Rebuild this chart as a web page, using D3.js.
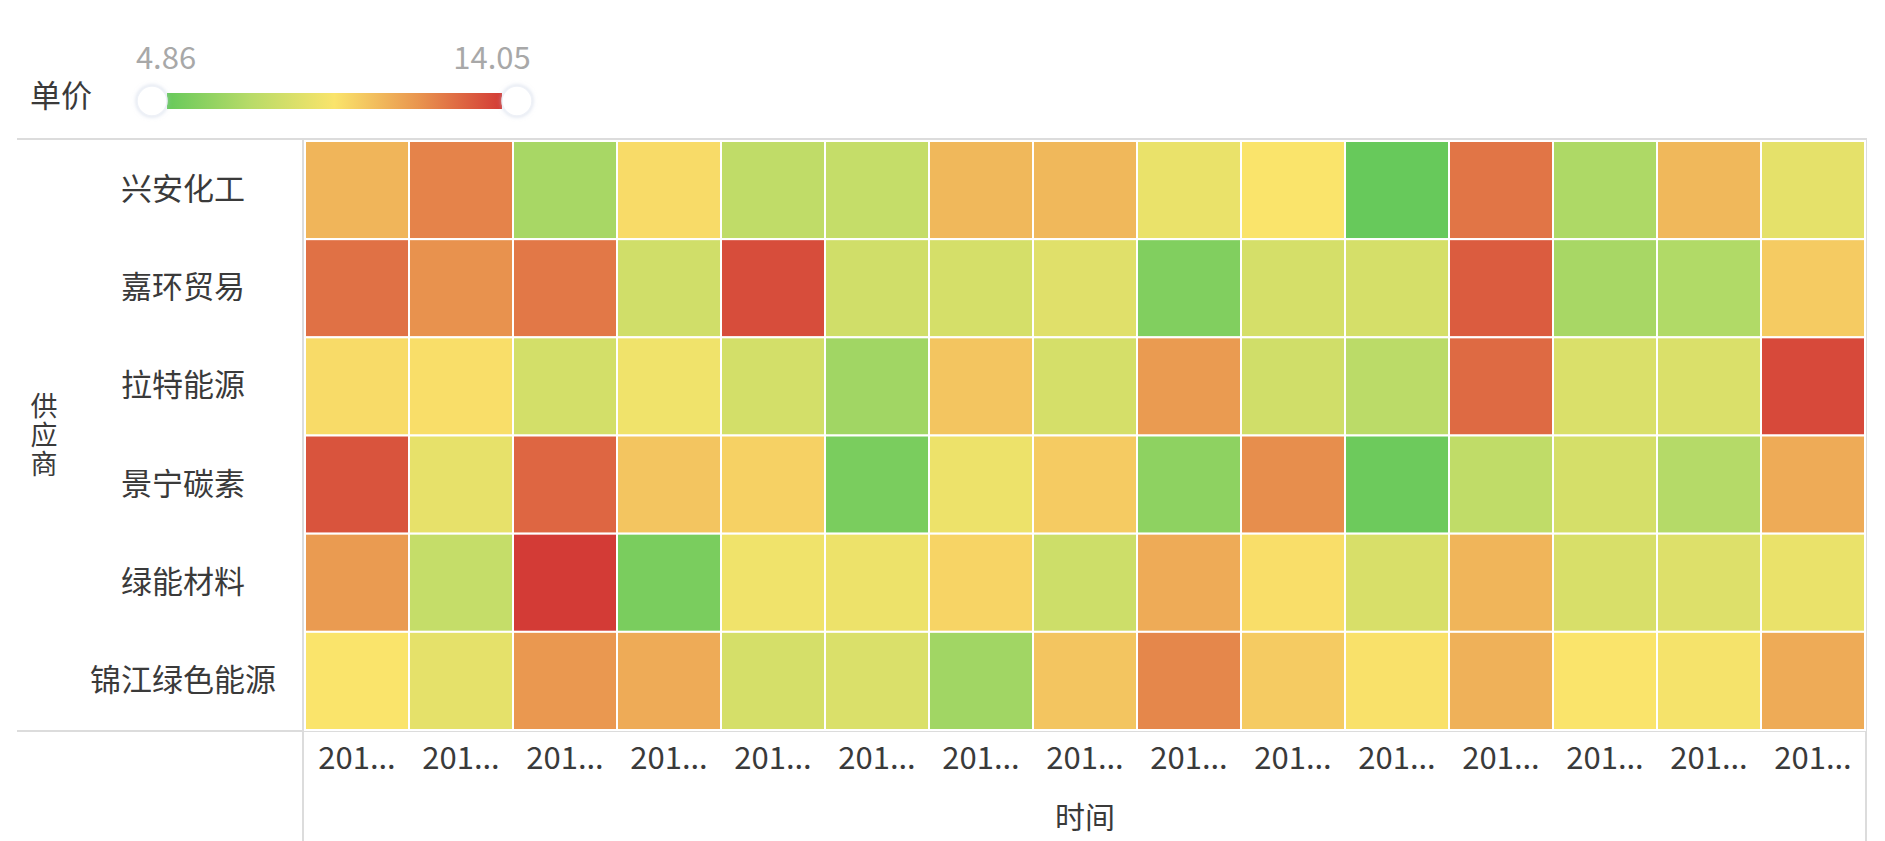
<!DOCTYPE html>
<html>
<head>
<meta charset="utf-8">
<script src="https://cdn.jsdelivr.net/npm/d3@7"></script>
<style>
  html, body { margin: 0; padding: 0; background: #fff; }
  svg { display: block; font-family: "Noto Sans CJK SC", "Noto Sans", sans-serif; }
</style>
</head>
<body>
<svg id="chart"></svg>
<script>
const w = 1885;
const h = 841;

// data
const suppliers = ['兴安化工', '嘉环贸易', '拉特能源', '景宁碳素', '绿能材料', '锦江绿色能源'];
const months = ['2017-01', '2017-02', '2017-03', '2017-04', '2017-05', '2017-06', '2017-07', '2017-08',
  '2017-09', '2017-10', '2017-11', '2017-12', '2018-01', '2018-02', '2018-03'];
const xingan  = [10.83, 12.21, 6.70, 9.73, 7.43, 7.62, 10.74, 10.74, 8.90, 9.46, 4.86, 12.58, 6.88, 10.74, 8.72];
const jiahuan = [12.67, 11.84, 12.49, 7.98, 13.59, 7.98, 8.17, 8.54, 5.60, 8.17, 8.17, 13.22, 6.70, 6.97, 10.19];
const late    = [9.73, 9.64, 8.08, 9.09, 8.08, 6.51, 10.37, 8.17, 11.57, 7.98, 7.25, 12.86, 8.35, 8.35, 13.68];
const jingning = [13.41, 8.81, 12.95, 10.37, 10.01, 5.41, 9.00, 10.19, 5.96, 11.94, 5.04, 7.43, 8.17, 7.07, 11.11];
const lvneng  = [11.57, 7.62, 14.05, 5.41, 9.09, 9.00, 9.91, 7.89, 11.11, 9.64, 8.26, 10.83, 8.26, 8.44, 8.90];
const jinjiang = [9.46, 8.72, 11.66, 11.11, 8.17, 8.35, 6.51, 10.37, 12.12, 10.19, 9.55, 10.93, 9.46, 9.27, 11.11];
const rows = [xingan, jiahuan, late, jingning, lvneng, jinjiang];

const colors = ['#67c95b', '#b8db68', '#fae46b', '#e9954f', '#d33b36'];

let data = [];
rows.forEach((vals, i) => {
  vals.forEach((v, j) => data.push({ supplier: suppliers[i], month: months[j], value: v }));
});

const minVal = d3.min(data, d => d.value);
const maxVal = d3.max(data, d => d.value);

const gridLeft = 305, gridRight = 1865, gridTop = 141, gridBottom = 730;
const lineColor = '#dcdcdc';
const textColor = '#3a3a3a';

let canvas = d3.select('#chart').attr('width', w).attr('height', h);

let xScale = d3.scaleBand().domain(months).range([gridLeft, gridRight]);
let yScale = d3.scaleBand().domain(suppliers).range([gridTop, gridBottom]);
let colorScale = d3.scaleLinear()
  .domain(colors.map((c, i) => minVal + (maxVal - minVal) * i / (colors.length - 1)))
  .range(colors)
  .interpolate(d3.interpolateRgb);

// frame lines
canvas.append('line').attr('x1', 17).attr('x2', gridRight + 1).attr('y1', gridTop - 2).attr('y2', gridTop - 2)
  .attr('stroke', lineColor).attr('stroke-width', 2);
canvas.append('line').attr('x1', 17).attr('x2', gridRight + 1).attr('y1', gridBottom + 1).attr('y2', gridBottom + 1)
  .attr('stroke', lineColor).attr('stroke-width', 2);
canvas.append('line').attr('x1', gridLeft - 2).attr('x2', gridLeft - 2).attr('y1', gridTop - 3).attr('y2', h)
  .attr('stroke', lineColor).attr('stroke-width', 2);
canvas.append('line').attr('x1', gridRight + 1).attr('x2', gridRight + 1).attr('y1', gridTop - 3).attr('y2', h)
  .attr('stroke', lineColor).attr('stroke-width', 2);

// cells
canvas.selectAll('rect.cell')
  .data(data)
  .enter()
  .append('rect')
  .attr('class', 'cell')
  .attr('x', d => xScale(d.month))
  .attr('y', d => yScale(d.supplier))
  .attr('width', xScale.bandwidth())
  .attr('height', yScale.bandwidth())
  .attr('fill', d => colorScale(d.value))
  .attr('stroke', '#fff')
  .attr('stroke-width', 2);

// y axis (row labels)
let yAxis = d3.axisLeft(yScale).tickSize(0).tickPadding(0);
let yg = canvas.append('g').attr('transform', 'translate(183,0)').call(yAxis);
yg.select('.domain').remove();
yg.selectAll('text')
  .attr('text-anchor', 'middle')
  .attr('font-size', 31)
  .attr('font-family', '"Noto Sans CJK SC", sans-serif')
  .attr('fill', textColor);

// x axis
let xAxis = d3.axisBottom(xScale).tickSize(0).tickPadding(0)
  .tickFormat(m => m.length > 3 ? m.slice(0, 3) + '...' : m);
let xg = canvas.append('g').attr('transform', `translate(0,${gridBottom + 17})`).call(xAxis);
xg.select('.domain').remove();
xg.selectAll('text')
  .attr('font-size', 31)
  .attr('font-family', '"Noto Sans CJK SC", sans-serif')
  .attr('fill', textColor);

// axis titles
canvas.append('text')
  .attr('x', (gridLeft + gridRight) / 2)
  .attr('y', 828)
  .attr('text-anchor', 'middle')
  .attr('font-size', 30)
  .attr('fill', textColor)
  .text('时间');

// vertical title
canvas.append('text')
  .attr('x', 44)
  .attr('y', (gridTop + gridBottom) / 2)
  .attr('text-anchor', 'middle')
  .style('writing-mode', 'vertical-rl')
  .style('letter-spacing', '2px')
  .attr('font-size', 27)
  .attr('fill', textColor)
  .text('供应商');

// legend
const legendLeft = 167, legendRight = 502;
let legendScale = d3.scaleLinear().domain([minVal, maxVal]).range([legendLeft, legendRight]);

let defs = canvas.append('defs');
let grad = defs.append('linearGradient').attr('id', 'legend-grad').attr('x1', '0%').attr('x2', '100%');
colors.forEach((c, i) => {
  grad.append('stop').attr('offset', (i / (colors.length - 1) * 100) + '%').attr('stop-color', c);
});
let shadow = defs.append('filter').attr('id', 'handle-shadow').attr('x', '-50%').attr('y', '-50%')
  .attr('width', '200%').attr('height', '200%');
shadow.append('feDropShadow').attr('dx', 0).attr('dy', 0).attr('stdDeviation', 2)
  .attr('flood-color', '#b8c4dc').attr('flood-opacity', 0.6);

canvas.append('text')
  .attr('x', 30).attr('y', 107)
  .attr('font-size', 31)
  .attr('fill', textColor)
  .text('单价');

canvas.append('rect')
  .attr('x', legendScale(minVal)).attr('y', 93)
  .attr('width', legendScale(maxVal) - legendScale(minVal)).attr('height', 16)
  .attr('fill', 'url(#legend-grad)');

canvas.selectAll('circle.handle')
  .data([minVal, maxVal])
  .enter()
  .append('circle')
  .attr('class', 'handle')
  .attr('cx', (d, i) => legendScale(d) + (i === 0 ? -15 : 15))
  .attr('cy', 101)
  .attr('r', 15)
  .attr('fill', '#fff')
  .attr('stroke', '#eef1f7')
  .attr('stroke-width', 1.5)
  .attr('filter', 'url(#handle-shadow)');

canvas.selectAll('text.handle-label')
  .data([minVal, maxVal])
  .enter()
  .append('text')
  .attr('class', 'handle-label')
  .attr('x', (d, i) => legendScale(d) + (i === 0 ? -1 : -10))
  .attr('y', 69)
  .attr('text-anchor', 'middle')
  .attr('font-size', 31)
  .attr('fill', '#a8a8a8')
  .text(d => d.toFixed(2));
</script>
</body>
</html>
